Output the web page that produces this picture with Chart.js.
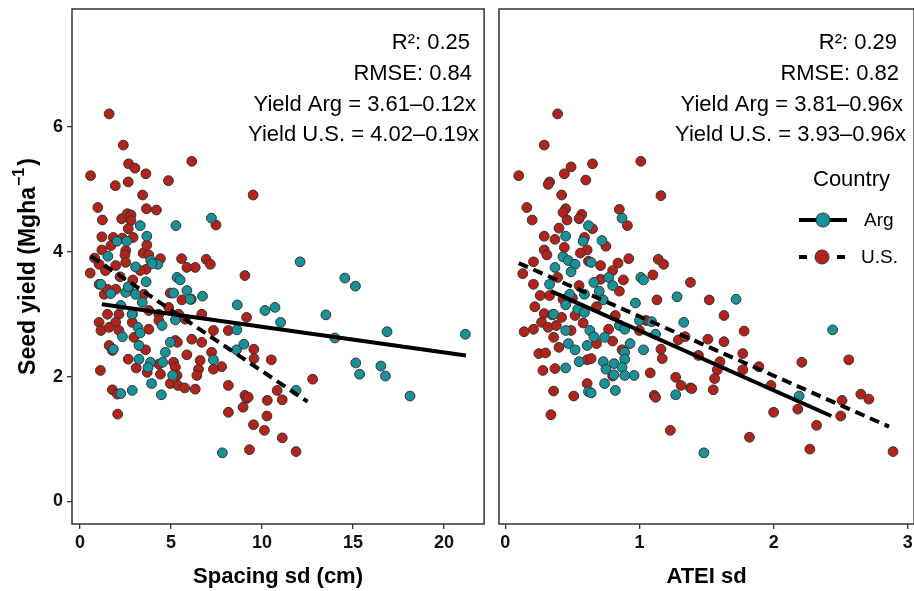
<!DOCTYPE html>
<html><head><meta charset="utf-8">
<script src="https://cdn.jsdelivr.net/npm/chart.js@4"></script>
<style>
html,body{margin:0;padding:0;background:#fff;overflow:hidden;width:914px;height:591px;}
.w{position:absolute;top:0;}
</style></head><body>
<div class="w" style="left:0;width:490px;height:591px"><canvas id="c1" width="490" height="591"></canvas></div>
<div class="w" style="left:490px;width:430px;height:591px"><canvas id="c2" width="430" height="591"></canvas></div>
<script>
// ---------- DATA ----------
const yTicks = [0, 2, 4, 6];
const spacingTicks = [0, 5, 10, 15, 20];
const ateiTicks = [0, 1, 2, 3];
const seriesNames = ['Arg', 'U.S.'];

// Left panel: Spacing sd (cm) vs Seed yield
const spacingUS = [[1.6,6.21],[2.38,5.71],[0.58,5.22],[2.67,5.41],[3.02,5.34],[3.62,5.25],[1.94,5.06],[2.65,5.12],[6.14,5.45],[4.86,5.14],[3.44,4.91],[9.51,4.91],[0.98,4.71],[3.65,4.69],[4.2,4.67],[1.23,4.51],[2.29,4.53],[2.6,4.61],[2.8,4.59],[2.8,4.5],[2.65,4.37],[1.2,4.24],[1.83,4.23],[2.92,4.23],[2.33,4.22],[7.47,4.43],[1.2,4.03],[2.51,4.02],[2.47,3.95],[3.47,3.98],[3.78,3.95],[4.42,3.89],[5.58,3.89],[6.93,3.88],[7.16,3.8],[3.67,4.11],
[0.56,3.66],[1.05,3.8],[1.96,3.78],[2.51,3.83],[3.63,3.72],[5.87,3.75],[6.33,3.75],[9.06,3.62],[1.05,3.48],[1.33,3.32],[1.96,3.4],[2.69,3.43],[3.51,3.32],[4.96,3.34],[5.6,3.23],[6.11,3.24],[4.87,3.11],[1.51,3.0],[2.14,3.0],[2.87,3.0],[3.78,3.06],[4.33,3.0],[6.69,3.0],[1.05,2.87],[1.15,2.74],[1.96,2.87],[1.6,2.79],[2.14,2.74],[2.87,2.87],[2.96,2.63],[3.78,2.76],[4.33,2.9],[5.42,3.0],[5.78,2.92],[7.33,2.74],[8.15,2.74],[9.15,2.95],[1.6,2.5],[1.78,2.42],[3.6,2.43],[5.24,2.58],[5.35,2.55],[6.14,2.6],[6.69,2.55],[5.87,2.35],[7.23,2.39],[2.65,2.28],[3.09,2.14],[4.33,2.2],[5.14,2.23],[5.24,2.15],[6.6,2.26],[6.51,2.12],[7.78,2.16],[7.33,2.12],[1.12,2.1],[3.69,2.07],[4.42,2.04],[5.33,2.02],[6.42,2.02],[4.96,1.89],[5.38,1.86],[5.75,1.82],[6.33,1.8],[8.15,1.86],[1.78,1.79],[2.05,1.72],[9.06,1.7],[9.15,1.65],[8.96,1.51],[8.15,1.43],[2.07,1.4],[9.53,1.23],[9.31,0.83],[1.51,3.4],
[9.55,2.44],[9.56,2.29],[10.51,2.27],[12.78,1.96],[10.83,1.78],[11.11,1.63],[10.29,1.62],[10.27,1.37],[10.13,1.14],[11.11,1.02],[11.87,0.8],[9.24,1.67],
[0.8,3.9],[1.4,3.7],[2.2,3.6],[2.9,3.55],[1.7,4.1],[3.3,3.7]];
const spacingArg = [[7.22,4.54],[5.27,4.42],[3.31,4.42],[3.67,4.25],[2.03,4.17],[2.56,4.17],[1.53,3.93],[3.89,3.86],[4.27,3.8],[3.05,3.76],[3.96,3.81],[1.15,3.48],[1.69,3.33],[2.51,3.35],[3.05,3.32],[3.63,3.52],[2.65,3.44],[3.42,3.19],[5.33,3.59],[5.5,3.55],[5.14,3.34],[5.87,3.38],[6.05,3.24],[6.73,3.29],[8.64,3.15],[2.24,3.14],[2.87,3.0],[4.51,2.82],[5.24,2.91],[3.18,2.79],[3.3,2.7],[2.33,2.64],[3.24,2.5],[4.96,2.55],[4.69,2.39],[3.24,2.28],[3.87,2.23],[3.74,2.15],[4.54,2.23],[5.09,2.02],[7.33,2.27],[8.62,2.75],[9.0,2.52],[8.6,2.43],[1.83,2.44],[3.93,1.89],[2.24,1.73],[2.87,1.78],[4.47,1.71],[7.82,0.78],
[12.09,3.84],[14.55,3.58],[15.13,3.45],[10.16,3.06],[10.71,3.11],[11.02,2.87],[13.51,2.99],[14.0,2.62],[16.87,2.72],[21.17,2.68],[15.15,2.22],[15.36,2.04],[16.53,2.17],[16.78,2.01],[18.13,1.69],[11.87,1.78]];
const spacingArgFit = [[1.2,3.16],[21.2,2.34]];
const spacingUSFit = [[0.6,3.93],[12.5,1.6]];

// Right panel: ATEI sd vs Seed yield
const ateiUS = [[0.39,6.21],[0.29,5.71],[0.1,5.22],[0.49,5.36],[0.44,5.25],[0.65,5.41],[0.33,5.12],[0.32,5.08],[0.6,5.15],[1.01,5.45],[0.42,4.91],[1.16,4.9],[0.16,4.71],[0.45,4.69],[0.2,4.51],[0.43,4.63],[0.57,4.6],[0.55,4.53],[0.46,4.51],[0.85,4.68],[0.91,4.42],[0.4,4.38],[0.65,4.37],[0.29,4.25],[0.37,4.2],[0.59,4.23],[0.75,4.09],[0.44,4.07],[0.61,4.03],[0.29,4.03],[0.31,3.95],[0.56,3.98],[0.21,3.84],[0.92,3.89],[0.84,3.82],[1.14,3.88],[1.18,3.8],[1.1,3.63],[0.71,3.78],[0.8,3.7],[0.13,3.65],[1.38,3.51],[0.62,3.85],
[0.21,3.48],[0.39,3.59],[0.55,3.46],[0.26,3.3],[0.33,3.3],[0.43,3.24],[0.5,3.26],[0.71,3.56],[0.88,3.55],[0.85,3.37],[1.13,3.23],[0.22,3.12],[0.29,3.01],[0.35,2.99],[0.42,2.95],[0.52,2.98],[0.68,3.12],[0.82,2.98],[1.05,2.9],[0.27,2.87],[0.14,2.72],[0.21,2.76],[0.32,2.79],[0.38,2.82],[0.49,2.74],[0.58,2.86],[0.77,2.76],[1.0,2.74],[0.36,2.63],[0.4,2.47],[0.68,2.53],[0.8,2.57],[1.29,2.59],[1.34,2.64],[0.25,2.37],[0.3,2.38],[0.87,2.43],[1.16,2.44],[1.17,2.29],[0.61,2.27],[0.64,2.29],[0.28,2.1],[0.37,2.13],[0.8,2.01],[1.08,2.06],[1.27,1.99],[1.31,1.86],[1.38,1.82],[0.61,1.89],[0.36,1.77],[0.51,1.69],[1.11,1.7],[1.12,1.67],[0.34,1.39],[1.23,1.14],
[1.52,3.23],[1.63,2.98],[1.78,2.73],[1.51,2.6],[1.63,2.56],[1.77,2.37],[1.44,2.34],[1.6,2.24],[1.58,2.11],[1.77,2.11],[1.89,2.16],[1.56,1.97],[1.55,1.79],[1.39,1.81],[1.98,1.86],[2.21,2.23],[2.56,2.27],[2.51,1.62],[2.65,1.72],[2.71,1.64],[2.5,1.37],[2.18,1.48],[2.0,1.43],[2.32,1.22],[1.82,1.03],[2.27,0.84],[2.89,0.8]];
const ateiArg = [[0.62,4.42],[0.87,4.54],[0.45,4.25],[0.58,4.17],[0.72,4.18],[0.43,3.92],[0.47,3.86],[0.64,3.83],[0.52,3.8],[0.37,3.75],[0.49,3.68],[1.01,3.59],
[0.33,3.48],[0.66,3.51],[0.77,3.59],[0.8,3.46],[1.03,3.55],[0.48,3.32],[0.59,3.32],[0.7,3.37],[0.73,3.23],[0.36,3.0],[0.45,3.15],[0.54,3.08],[0.59,3.03],[0.97,3.18],[1.28,3.28],[1.0,2.9],[1.09,2.88],[1.33,2.87],[0.45,2.74],[0.63,2.74],[0.66,2.64],[0.74,2.63],[0.85,2.82],[0.89,2.76],[1.12,2.68],[0.47,2.53],[0.52,2.43],[0.61,2.5],[0.93,2.53],[1.03,2.43],[0.89,2.39],[0.89,2.28],[0.55,2.24],[0.45,2.14],[0.73,2.24],[0.81,2.21],[0.75,2.12],[0.87,2.15],[0.81,2.03],[0.89,2.02],[0.96,2.02],[0.74,1.89],[0.62,1.76],[0.64,1.74],[0.82,1.78],[1.27,1.71],
[1.72,3.24],[2.44,2.75],[2.19,1.69],[1.48,0.78]];
const ateiArgFit = [[0.34,3.37],[2.43,1.37]];
const ateiUSFit = [[0.1,3.82],[2.86,1.2]];

const spacingStats = ['R\u00b2: 0.25', 'RMSE: 0.84', 'Yield Arg = 3.61\u20130.12x', 'Yield U.S. = 4.02\u20130.19x'];
const ateiStats = ['R\u00b2: 0.29', 'RMSE: 0.82', 'Yield Arg = 3.81\u20130.96x', 'Yield U.S. = 3.93\u20130.96x'];

// ---------- STYLE ----------
const TEAL = '#17929A', RED = '#B3231A', EDGE = '#333333', AX = '#333333';
const FONT = '"Liberation Sans", Arial, Helvetica, sans-serif';

const toXY = a => a.map(([x, y]) => ({x, y}));

function pointsDS(data, color, order) {
  return {type: 'scatter', data: toXY(data), backgroundColor: color, borderColor: EDGE,
    borderWidth: 1, pointRadius: 4.9, order: order};
}
function lineDS(data, dashed) {
  return {type: 'line', data: toXY(data), borderColor: '#000', borderWidth: 4,
    borderDash: dashed ? [10, 6] : [], pointRadius: 0, showLine: true, fill: false, order: 0};
}

const boxPlugin = {
  id: 'box',
  beforeDatasetsDraw(chart) {
    const {ctx, chartArea: a} = chart;
    ctx.save(); ctx.strokeStyle = AX; ctx.lineWidth = 1.5;
    ctx.strokeRect(a.left, a.top, a.right - a.left, a.bottom - a.top);
    ctx.restore();
  }
};

function statsPlugin(lines) {
  return {
    id: 'stats',
    afterDraw(chart) {
      const {ctx, chartArea: a} = chart;
      const offs = [398, 400, 404, 407], ys = [43, 74, 105, 135];
      ctx.save(); ctx.fillStyle = '#000'; ctx.font = '22px ' + FONT;
      ctx.textAlign = 'right'; ctx.textBaseline = 'middle';
      lines.forEach((t, i) => ctx.fillText(t, a.left + offs[i], ys[i]));
      ctx.restore();
    }
  };
}

const yTitlePlugin = {
  id: 'ytitle',
  afterDraw(chart) {
    const {ctx, chartArea: a} = chart;
    const f1 = 'bold 23px ' + FONT, f2 = 'bold 16px ' + FONT;
    const p1 = 'Seed yield (Mgha', p2 = '\u22121', p3 = ')';
    ctx.save();
    ctx.translate(29, (a.top + a.bottom) / 2);
    ctx.rotate(-Math.PI / 2);
    ctx.fillStyle = '#000'; ctx.textBaseline = 'middle'; ctx.textAlign = 'left';
    ctx.font = f1; const w1 = ctx.measureText(p1).width, w3 = ctx.measureText(p3).width;
    ctx.font = f2; const w2 = ctx.measureText(p2).width;
    let x = -(w1 + w2 + w3 + 3) / 2;
    ctx.font = f1; ctx.fillText(p1, x, 0); x += w1 + 1;
    ctx.font = f2; ctx.fillText(p2, x, -9); x += w2 + 2;
    ctx.font = f1; ctx.fillText(p3, x, 0);
    ctx.restore();
  }
};

const legendPlugin = {
  id: 'clegend',
  afterDraw(chart) {
    const ctx = chart.ctx;
    ctx.save();
    ctx.fillStyle = '#000'; ctx.textBaseline = 'middle'; ctx.textAlign = 'left';
    ctx.font = '22px ' + FONT; ctx.fillText('Country', 323, 180);
    // Arg key
    ctx.strokeStyle = '#000'; ctx.lineWidth = 4;
    ctx.beginPath(); ctx.moveTo(309, 220); ctx.lineTo(357, 220); ctx.stroke();
    ctx.beginPath(); ctx.arc(333, 220, 7, 0, Math.PI * 2); ctx.fillStyle = TEAL; ctx.fill();
    ctx.lineWidth = 1; ctx.strokeStyle = EDGE; ctx.stroke();
    // U.S. key
    ctx.strokeStyle = '#000'; ctx.lineWidth = 4;
    ctx.beginPath(); ctx.moveTo(309, 257); ctx.lineTo(317, 257); ctx.moveTo(347, 257); ctx.lineTo(355, 257); ctx.stroke();
    ctx.beginPath(); ctx.arc(332, 257, 7, 0, Math.PI * 2); ctx.fillStyle = RED; ctx.fill();
    ctx.lineWidth = 1; ctx.strokeStyle = EDGE; ctx.stroke();
    ctx.fillStyle = '#000'; ctx.font = '19px ' + FONT;
    ctx.fillText(seriesNames[0], 374, 221);
    ctx.fillText(seriesNames[1], 371, 258);
    ctx.restore();
  }
};

function fixTicks(vals) {
  return s => { s.ticks = vals.map(v => ({value: v})); };
}
const tickFont = {family: FONT, size: 18, weight: 'bold'};

function xScale(min, max, vals, title) {
  return {
    type: 'linear', min, max, afterBuildTicks: fixTicks(vals),
    ticks: {font: tickFont, color: '#111', padding: 3, maxRotation: 0, autoSkip: false},
    grid: {drawOnChartArea: false, drawTicks: true, tickLength: 5, color: AX, lineWidth: 1.3},
    border: {display: false},
    title: {display: true, text: title, font: {family: FONT, size: 22, weight: 'bold'}, color: '#000', padding: {top: 0, bottom: 1}},
    afterFit: s => { s.height = 67; s.paddingLeft = 0; s.paddingRight = 0; }
  };
}

Chart.defaults.animation = false;

new Chart(document.getElementById('c1'), {
  type: 'scatter',
  data: {datasets: [
    lineDS(spacingArgFit, false), lineDS(spacingUSFit, true),
    pointsDS(spacingArg, TEAL, 1), pointsDS(spacingUS, RED, 2)
  ]},
  options: {
    responsive: false, animation: false, events: [],
    layout: {padding: {top: 9, left: 0, right: 2, bottom: 0}},
    plugins: {legend: {display: false}, tooltip: {enabled: false}},
    scales: {
      x: xScale(-0.44, 22.2, spacingTicks, 'Spacing sd (cm)'),
      y: {
        type: 'linear', min: -0.36, max: 7.89, afterBuildTicks: fixTicks(yTicks),
        ticks: {font: tickFont, color: '#111', padding: 4},
        grid: {drawOnChartArea: false, drawTicks: true, tickLength: 5, color: AX, lineWidth: 1.3},
        border: {display: false},
        title: {display: false},
        afterFit: s => { s.width = 72; s.paddingTop = 0; s.paddingBottom = 0; }
      }
    }
  },
  plugins: [boxPlugin, statsPlugin(spacingStats), yTitlePlugin]
});

new Chart(document.getElementById('c2'), {
  type: 'scatter',
  data: {datasets: [
    lineDS(ateiArgFit, false), lineDS(ateiUSFit, true),
    pointsDS(ateiArg, TEAL, 1), pointsDS(ateiUS, RED, 2)
  ]},
  options: {
    responsive: false, animation: false, events: [],
    layout: {padding: {top: 9, left: 9, right: 3, bottom: 0}},
    plugins: {legend: {display: false}, tooltip: {enabled: false}},
    scales: {
      x: xScale(-0.047, 3.047, ateiTicks, 'ATEI sd'),
      y: {type: 'linear', min: -0.36, max: 7.89, display: false}
    }
  },
  plugins: [boxPlugin, statsPlugin(ateiStats), legendPlugin]
});
</script>
</body></html>
